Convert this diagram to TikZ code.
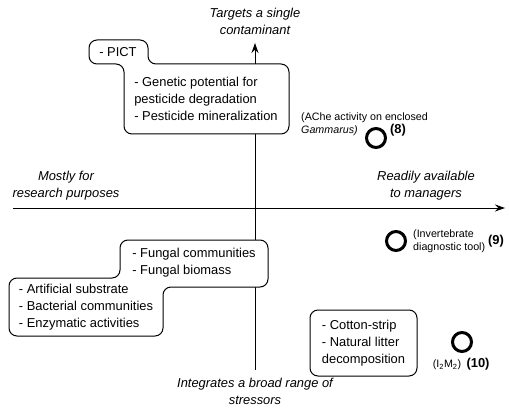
\documentclass[tikz,border=0pt]{standalone}
\usepackage{fontspec}
\setmainfont{Liberation Sans}
\usetikzlibrary{arrows.meta,positioning}

\begin{document}
\begin{tikzpicture}[x=1pt,y=-1pt,>={Stealth[length=10pt,width=7pt]}]
\tikzstyle{T}=[align=left,font=\fontsize{12.9}{17}\selectfont,inner sep=0pt]
\tikzstyle{A}=[align=center,font=\fontsize{12.9}{17}\selectfont\itshape,inner sep=0pt]
\tikzstyle{S}=[align=left,font=\fontsize{10.7}{13}\selectfont,inner sep=0pt]
\tikzstyle{N}=[font=\fontsize{12.9}{15}\selectfont\bfseries,inner sep=0pt]
\tikzstyle{B}=[draw,fill=white,line width=1pt,rounded corners=8pt]
\tikzstyle{C}=[circle,draw,line width=3pt,minimum size=19pt,inner sep=0pt]
\useasboundingbox (0,0) rectangle (509,417);
\coordinate (xl) at (13,208); \coordinate (xr) at (505,208);
\coordinate (yb) at (255,370); \coordinate (yt) at (255,43);
\draw[->,line width=1pt] (xl) -- (xr); \draw[->,line width=1pt] (yb) -- (yt);
\node[A] (ytop) at (255,21) {Targets a single\\contaminant};
\node[A] (ybot) at (255,391) {Integrates a broad range of\\stressors};
\node[A] (xleft) at (66,186) {Mostly for\\research purposes};
\node[A] (xright) at (426,186) {Readily available\\to managers};
\draw[B] (89,40) -- (148,40) -- (148,64) -- (289,64) -- (289,134) -- (124,134) -- (124,64) -- (89,64) -- cycle;
\node[T] (pict) at (118,52) {- PICT};
\node[T] (gen) at (206,99) {- Genetic potential for\\pesticide degradation\\- Pesticide mineralization};
\draw[B] (120,240) -- (268,240) -- (268,287) -- (163,287) -- (163,336) -- (9,336) -- (9,278) -- (120,278) -- cycle;
\node[T] (fung) at (194,263) {- Fungal communities\\- Fungal biomass};
\node[T] (art) at (86,307) {- Artificial substrate\\- Bacterial communities\\- Enzymatic activities};
\node[T,B,minimum width=107pt,minimum height=66pt] (cot) at (363.5,343) {- Cotton-strip\\- Natural litter\\decomposition};
\node[C] (c8) at (376,138) {}; \node[N] (n8) at (398,130) {(8)};
\node[S,anchor=west] (t8) at (301,124) {(AChe activity on enclosed\\\textit{Gammarus)}};
\node[C] (c9) at (396,241) {}; \node[S,right=6pt of c9] (t9) {(Invertebrate\\diagnostic tool)};
\node[N] (n9) at (496,241) {(9)};
\node[C] (c10) at (462,342) {}; \node[S] (t10) at (447,365) {(I\textsubscript{2}M\textsubscript{2})};
\node[N] (n10) at (478,364) {(10)};
\end{tikzpicture}
\end{document}
